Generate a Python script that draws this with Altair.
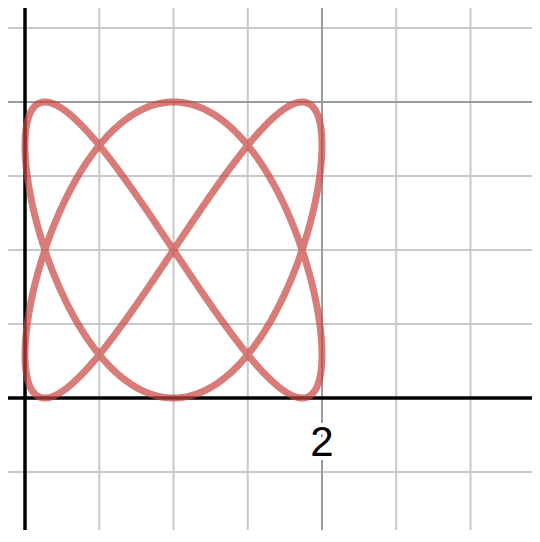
import altair as alt
import pandas as pd
import math

# Grid positions (every 0.5 units; major lines every 2 units)
minor_x = [0.5, 1.0, 1.5, 2.5, 3.0]
major_x = [2.0]
minor_y = [-0.5, 0.5, 1.0, 1.5, 2.5]
major_y = [2.0]
axis_x = [0.0]
axis_y = [0.0]

# Tick label shown
label_x = [2.0]
label_text = ["2"]

# Lissajous curve parameters: x = cx + a*sin(fx*t), y = cy + b*sin(fy*t)
curve_params = {"cx": 1.0, "cy": 1.0, "a": 1.0, "b": 1.0, "fx": 2, "fy": 3}

W, H = 524, 522
PX_X, PX_Y = 148.5, 148.0
X_DOMAIN = [-17 / PX_X, (W - 17) / PX_X]
Y_DOMAIN = [-(H - 390) / PX_Y, 390 / PX_Y]

xs = alt.Scale(domain=X_DOMAIN, nice=False, zero=False)
ys = alt.Scale(domain=Y_DOMAIN, nice=False, zero=False)

def vrules(vals, color, width):
    return alt.Chart(pd.DataFrame({"x": vals})).mark_rule(color=color, strokeWidth=width).encode(
        x=alt.X("x:Q", scale=xs, axis=None))

def hrules(vals, color, width):
    return alt.Chart(pd.DataFrame({"y": vals})).mark_rule(color=color, strokeWidth=width).encode(
        y=alt.Y("y:Q", scale=ys, axis=None))

grid = (vrules(minor_x, "#c9c9c9", 2) + hrules(minor_y, "#c9c9c9", 2)
        + vrules(major_x, "#9a9a9a", 2) + hrules(major_y, "#9a9a9a", 2))

p = curve_params
curve = alt.Chart(alt.sequence(0, 2 * math.pi + 0.01, 0.005, as_="t")).transform_calculate(
    cx=f"{p['cx']} + {p['a']} * sin({p['fx']} * datum.t)",
    cy=f"{p['cy']} + {p['b']} * sin({p['fy']} * datum.t)",
).mark_line(color="#c74440", opacity=0.7, strokeWidth=7, strokeCap="round", strokeJoin="round").encode(
    x=alt.X("cx:Q", scale=xs, axis=None),
    y=alt.Y("cy:Q", scale=ys, axis=None),
    order=alt.Order("t:Q"),
)

axes = vrules(axis_x, "#000000", 3.5) + hrules(axis_y, "#000000", 3.5)

lab_df = pd.DataFrame({"x": label_x, "label": label_text})
label_bg = alt.Chart(lab_df).mark_text(
    font="Liberation Sans", fontSize=42, color="white", stroke="white", strokeWidth=8,
    baseline="middle", align="center", dy=45
).encode(x=alt.X("x:Q", scale=xs, axis=None), y=alt.value(390), text="label:N")
label = alt.Chart(lab_df).mark_text(
    font="Liberation Sans", fontSize=42, color="black",
    baseline="middle", align="center", dy=45
).encode(x=alt.X("x:Q", scale=xs, axis=None), y=alt.value(390), text="label:N")

chart = alt.layer(grid, axes, curve, label_bg, label).properties(
    width=W, height=H, padding=0, autosize=alt.AutoSizeParams(type="none"),
    background="white",
).configure_view(stroke=None)

chart.save("out.html", embed_options={"renderer": "svg", "actions": False})
